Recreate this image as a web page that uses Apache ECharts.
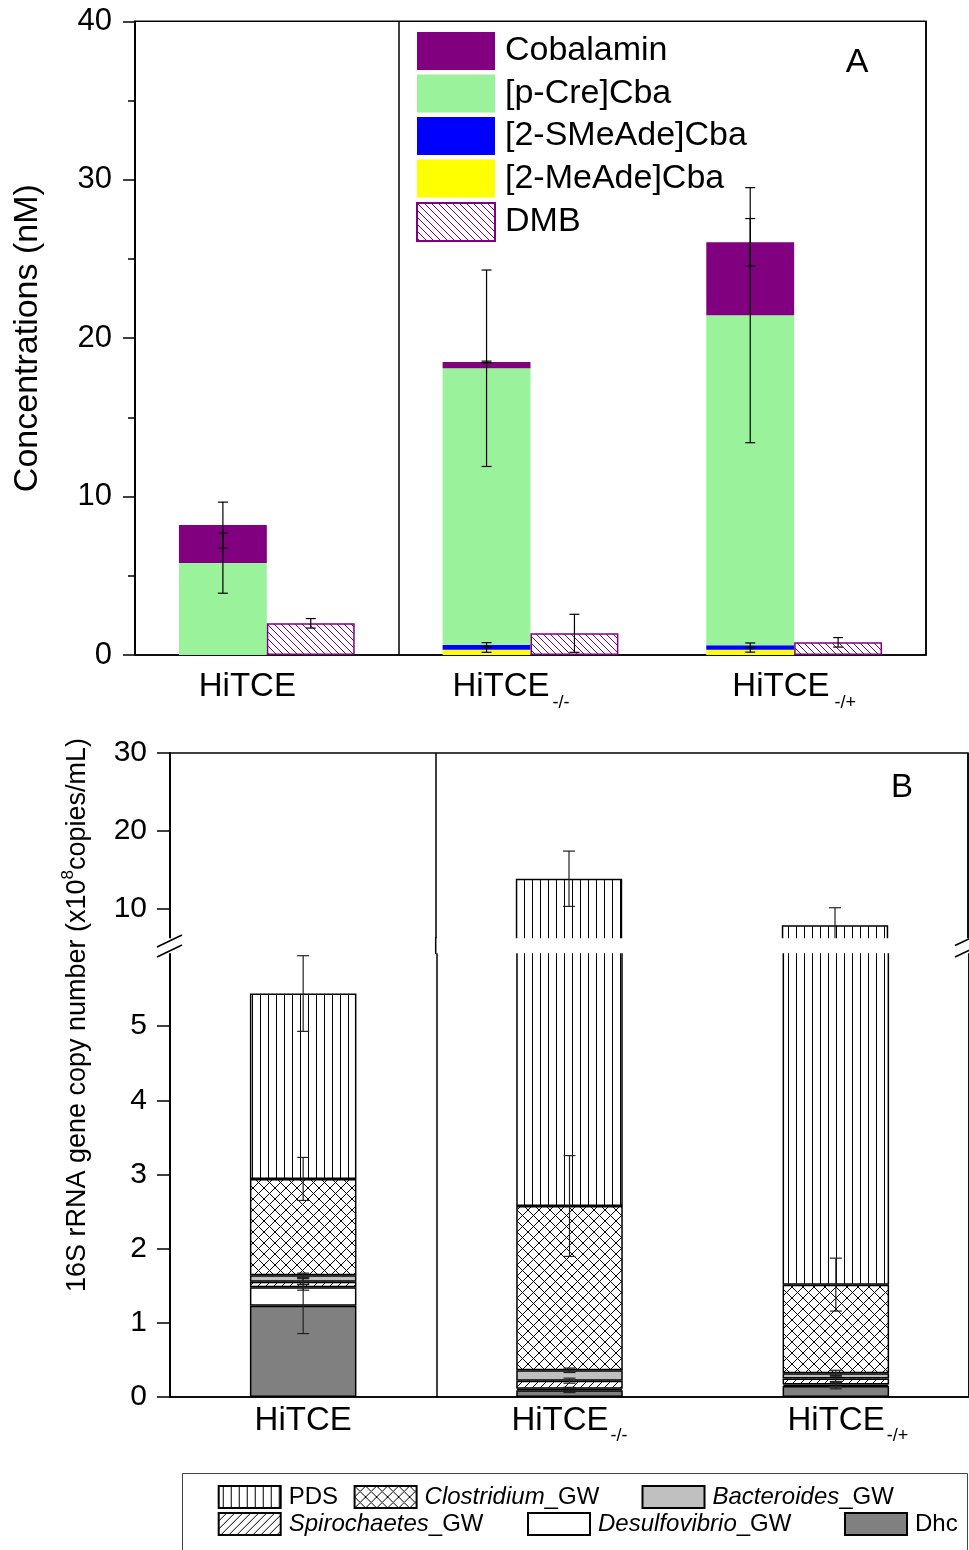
<!DOCTYPE html>
<html><head><meta charset="utf-8">
<script src="https://cdn.jsdelivr.net/npm/echarts@6/dist/echarts.min.js"></script>
<style>html,body{margin:0;padding:0;background:#fff}#c{width:969px;height:1550px}</style>
</head><body><div id="c"></div>
<script>
// ---------- Panel A data (nM) ----------
const categoriesA = ['HiTCE', 'HiTCE_-/-', 'HiTCE_-/+'];
const meAdeCba   = [0, 0.33, 0.33];     // [2-MeAde]Cba
const sMeAdeCba  = [0, 0.30, 0.28];     // [2-SMeAde]Cba
const pCreCba    = [5.8, 17.47, 20.84]; // [p-Cre]Cba
const cobalamin  = [2.4, 0.4, 4.6];
const dmb        = [2.0, 1.37, 0.8];
const errMeAde   = [0, 0.16, 0.15];
const errSMeAde  = [0, 0.15, 0.15];
const errPCre    = [1.9, 6.2, 8.05];
const errCobal   = [1.45, 0.05, 1.5];
const errDMB     = [0.3, 1.2, 0.3];
const yTicksA    = [0, 10, 20, 30, 40];

// ---------- Panel B data (x10^8 copies/mL) ----------
const categoriesB   = ['HiTCE', 'HiTCE_-/-', 'HiTCE_-/+'];
const dhc           = [1.23, 0.09, 0.15];
const desulfovibrio = [0.25, 0.02, 0.02];
const spirochaetes  = [0.075, 0.11, 0.08];
const bacteroides   = [0.085, 0.14, 0.07];
const clostridium   = [1.30, 2.215, 1.195];
const pds           = [2.50, 11.285, 6.365];
const errDhc        = [0.375, 0.03, 0.04];
const errDesulfo    = [0.04, 0.02, 0.03];
const errSpiro      = [0.04, 0.034, 0.04];
const errBactero    = [0.03, 0.03, 0.04];
const errClostri    = [0.29, 0.68, 0.357];
const errPDS        = [0.51, 3.55, 2.26];
const lowerTicksB   = [0, 1, 2, 3, 4, 5];
const upperTicksB   = [10, 20, 30];

const FF = '"Liberation Sans", Arial, sans-serif';

// ---------- fill patterns ----------
function pattern(w, h, stroke, lw, draw) {
  const c = document.createElement('canvas');
  c.width = w; c.height = h;
  const ctx = c.getContext('2d');
  ctx.fillStyle = '#fff'; ctx.fillRect(0, 0, w, h);
  ctx.strokeStyle = stroke; ctx.lineWidth = lw;
  ctx.beginPath(); draw(ctx, w, h); ctx.stroke();
  return { image: c, repeat: 'repeat' };
}
const patVert = pattern(8, 8, '#000', 1, (c) => { c.moveTo(4.5, 0); c.lineTo(4.5, 8); });
const patCross = pattern(11, 11, '#000', 1, (c) => {
  [-11, 0, 11].forEach(d => { c.moveTo(d, 0); c.lineTo(d + 11, 11); c.moveTo(d + 11, 0); c.lineTo(d, 11); });
});
const patSlash = pattern(8, 8, '#000', 1, (c) => {
  [-8, 0, 8].forEach(d => { c.moveTo(d, 8); c.lineTo(d + 8, 0); });
});
const patBack = pattern(7, 7, '#800080', 1, (c) => {
  [-7, 0, 7].forEach(d => { c.moveTo(d, 0); c.lineTo(d + 7, 7); });
});

// ---------- helpers ----------
function cumulative(layers) {
  let run = layers[0].map(() => 0);
  return layers.map(l => { run = run.map((v, k) => v + l[k]); return run.slice(); });
}
function errRenderer(color, capHalf, sideFrac) {
  return function (params, api) {
    const i = api.value(0), top = api.value(1), e = api.value(2), side = api.value(3) || 0;
    const bw = api.size([1, 0])[0];
    const x = api.coord([i, top])[0] + side * bw * sideFrac;
    const yHi = api.coord([i, top + e])[1];
    const yLo = api.coord([i, top - e])[1];
    const st = { stroke: color, lineWidth: 1.2 };
    return { type: 'group', children: [
      { type: 'line', shape: { x1: x, y1: yHi, x2: x, y2: yLo }, style: st },
      { type: 'line', shape: { x1: x - capHalf, y1: yHi, x2: x + capHalf, y2: yHi }, style: st },
      { type: 'line', shape: { x1: x - capHalf, y1: yLo, x2: x + capHalf, y2: yLo }, style: st }
    ]};
  };
}

// Panel A error bar items: [cat, top, err, side]
const topsA = cumulative([meAdeCba, sMeAdeCba, pCreCba, cobalamin]);
const errsA = [errMeAde, errSMeAde, errPCre, errCobal];
const errDataA = [];
topsA.forEach((tops, li) => tops.forEach((t, k) => { if (errsA[li][k] > 0) errDataA.push([k, t, errsA[li][k], -1]); }));
dmb.forEach((v, k) => errDataA.push([k, v, errDMB[k], 1]));

// Panel B error bar items
const layersB = [dhc, desulfovibrio, spirochaetes, bacteroides, clostridium, pds];
const errsB = [errDhc, errDesulfo, errSpiro, errBactero, errClostri, errPDS];
const topsB = cumulative(layersB);
const errLowerB = [], errUpperB = [];
topsB.forEach((tops, li) => tops.forEach((t, k) => {
  (t < 6 ? errLowerB : errUpperB).push([k, t, errsB[li][k], 0]);
}));

// ---------- label formatters ----------
function catLabel(value, index) {
  const p = value.split('_');
  return p[1] ? `{m${index}|${p[0]}}{s${index}|${p[1]}}` : `{m${index}|${p[0]}}`;
}
function mainTok(lh, pad) { return { fontSize: 33, fontFamily: FF, color: '#000', lineHeight: lh, padding: pad }; }
function subTok(pad) { return { fontSize: 18, fontFamily: FF, color: '#000', lineHeight: 18, verticalAlign: 'bottom', padding: pad }; }
const richA = { m0: mainTok(50, [0, 39, 0, 0]), m1: mainTok(50, [0, 0, 0, 0]), s1: subTok([0, 39, 0, 3]),
                m2: mainTok(50, [0, 0, 0, 0]), s2: subTok([0, 0, 0, 5]) };
const richB = { m0: mainTok(48, [0, 0, 0, 0]), m1: mainTok(48, [0, 0, 0, 0]), s1: subTok([0, 0, 0, 2]),
                m2: mainTok(48, [0, 0, 0, 24]), s2: subTok([0, 0, 0, 2]) };

const blackLine = { color: '#000', width: 1.5 };
// divider between first and second category (ticks 0 and 1 -> left edge and first boundary)
const dividerOnly = (i) => i <= 1;

// ---------- Panel B series builder ----------
const namesB = ['Dhc', 'Desulfovibrio_GW', 'Spirochaetes_GW', 'Bacteroides_GW', 'Clostridium_GW', 'PDS'];
const fillsB = ['#808080', '#ffffff', patSlash, '#c0c0c0', patCross, patVert];
function seriesB(axisIdx) {
  return layersB.map((vals, li) => ({
    name: namesB[li], type: 'bar', stack: 'B' + axisIdx, xAxisIndex: axisIdx, yAxisIndex: axisIdx,
    barWidth: '40%', clip: true, data: vals,
    itemStyle: { color: fillsB[li], borderColor: '#000', borderWidth: 1.5 }
  }));
}

function legendB(name, left, top) {
  return {
    data: [name], left: left, top: top, padding: 0, itemWidth: 62, itemHeight: 22, icon: 'rect', selectedMode: false,
    formatter: (n) => { const p = n.split('_'); return p[1] ? `{i|${p[0]}}{n|_${p[1]}}` : `{n|${n}}`; },
    textStyle: { fontSize: 24, fontFamily: FF, color: '#000', padding: [0, 0, 0, 3],
      rich: { i: { fontSize: 24, fontFamily: FF, fontStyle: 'italic', color: '#000' },
              n: { fontSize: 24, fontFamily: FF, color: '#000' } } }
  };
}

const chart = echarts.init(document.getElementById('c'), null, { renderer: 'canvas' });
chart.setOption({
  animation: false,
  backgroundColor: '#fff',
  grid: [
    { left: 135, top: 21.3, width: 791, height: 633.7, show: true, borderColor: '#000', borderWidth: 1.5, backgroundColor: 'transparent' },
    { left: 170, top: 952, width: 799, height: 445, show: true, borderColor: '#000', borderWidth: 1.5, backgroundColor: 'transparent' },
    { left: 170, top: 753, width: 798, height: 187, show: true, borderColor: '#000', borderWidth: 1.5, backgroundColor: 'transparent' }
  ],
  xAxis: [
    { type: 'category', gridIndex: 0, data: categoriesA,
      axisLine: { lineStyle: blackLine }, axisTick: { length: 12, lineStyle: blackLine },
      splitLine: { show: true, interval: dividerOnly, lineStyle: blackLine },
      axisLabel: { formatter: catLabel, rich: richA, margin: 7, interval: 0 } },
    { type: 'category', gridIndex: 1, data: categoriesB,
      axisLine: { lineStyle: blackLine }, axisTick: { length: 8, lineStyle: blackLine },
      splitLine: { show: true, interval: dividerOnly, lineStyle: blackLine },
      axisLabel: { formatter: catLabel, rich: richB, margin: 0, interval: 0 } },
    { type: 'category', gridIndex: 2, data: categoriesB,
      axisLine: { show: false }, axisTick: { show: false }, axisLabel: { show: false },
      splitLine: { show: true, interval: dividerOnly, lineStyle: blackLine } }
  ],
  yAxis: [
    { type: 'value', gridIndex: 0, min: 0, max: 40, interval: 10,
      name: 'Concentrations (nM)', nameLocation: 'middle', nameGap: 90,
      nameTextStyle: { fontSize: 34, fontFamily: FF, color: '#000' },
      axisLine: { show: true, lineStyle: blackLine },
      axisTick: { show: true, length: 12, lineStyle: blackLine, customValues: yTicksA },
      minorTick: { show: true, splitNumber: 2, length: 7, lineStyle: { color: '#000', width: 1.5 } },
      splitLine: { show: false },
      axisLabel: { fontSize: 31, fontFamily: FF, color: '#000', margin: 23, customValues: yTicksA } },
    { type: 'value', gridIndex: 1, min: 0, max: 6,
      name: '{t|16S rRNA gene copy number (x10}{u|8}{t|copies/mL)}', nameLocation: 'middle', nameGap: 74,
      nameTextStyle: { fontSize: 27, fontFamily: FF, color: '#000', padding: [0, 0, 0, 319],
        rich: { t: { fontSize: 27, fontFamily: FF, color: '#000', lineHeight: 36 },
                u: { fontSize: 17, fontFamily: FF, color: '#000', lineHeight: 17, verticalAlign: 'top' } } },
      axisLine: { show: true, lineStyle: blackLine },
      axisTick: { show: true, length: 13, lineStyle: blackLine, customValues: lowerTicksB },
      splitLine: { show: false },
      axisLabel: { fontSize: 30, fontFamily: FF, color: '#000', margin: 23, customValues: lowerTicksB } },
    { type: 'value', gridIndex: 2, min: 6, max: 30,
      axisLine: { show: true, lineStyle: blackLine },
      axisTick: { show: true, length: 13, lineStyle: blackLine, customValues: upperTicksB },
      splitLine: { show: false },
      axisLabel: { fontSize: 30, fontFamily: FF, color: '#000', margin: 23, customValues: upperTicksB } }
  ],
  legend: [
    { data: ['Cobalamin', '[p-Cre]Cba', '[2-SMeAde]Cba', '[2-MeAde]Cba', 'DMB'],
      left: 416, top: 32, padding: 0, orient: 'vertical', itemWidth: 78, itemHeight: 38, itemGap: 4.5, icon: 'rect',
      selectedMode: false,
      textStyle: { fontSize: 34, fontFamily: FF, color: '#000', padding: [6, 0, 0, 5] } },
    legendB('PDS', 217.7, 1485),
    legendB('Clostridium_GW', 353.6, 1485),
    legendB('Bacteroides_GW', 641.5, 1485),
    legendB('Spirochaetes_GW', 217.7, 1512),
    legendB('Desulfovibrio_GW', 527, 1512),
    legendB('Dhc', 844, 1512)
  ],
  series: [
    { name: '[2-MeAde]Cba', type: 'bar', stack: 'A', xAxisIndex: 0, yAxisIndex: 0, data: meAdeCba,
      barWidth: '33.33%', barGap: '0%', itemStyle: { color: '#ffff00' } },
    { name: '[2-SMeAde]Cba', type: 'bar', stack: 'A', xAxisIndex: 0, yAxisIndex: 0, data: sMeAdeCba,
      barWidth: '33.33%', barGap: '0%', itemStyle: { color: '#0000ff' } },
    { name: '[p-Cre]Cba', type: 'bar', stack: 'A', xAxisIndex: 0, yAxisIndex: 0, data: pCreCba,
      barWidth: '33.33%', barGap: '0%', itemStyle: { color: '#9af29a' } },
    { name: 'Cobalamin', type: 'bar', stack: 'A', xAxisIndex: 0, yAxisIndex: 0, data: cobalamin,
      barWidth: '33.33%', barGap: '0%', itemStyle: { color: '#800080' } },
    { name: 'DMB', type: 'bar', stack: 'D', xAxisIndex: 0, yAxisIndex: 0, data: dmb,
      barWidth: '33.33%', barGap: '0%', itemStyle: { color: patBack, borderColor: '#800080', borderWidth: 1.5 } },
    { type: 'custom', xAxisIndex: 0, yAxisIndex: 0, data: errDataA, z: 10,
      renderItem: errRenderer('#000', 5, 1 / 6) },
    ...seriesB(1),
    ...seriesB(2),
    { type: 'custom', xAxisIndex: 1, yAxisIndex: 1, data: errLowerB, z: 10, clip: true,
      renderItem: errRenderer('#222', 6, 0) },
    { type: 'custom', xAxisIndex: 2, yAxisIndex: 2, data: errUpperB, z: 10, clip: true,
      renderItem: errRenderer('#222', 6, 0) }
  ],
  graphic: [
    { type: 'rect', z: 100, shape: { x: 150, y: 938.3, width: 819, height: 14.9 }, style: { fill: '#fff' } },
    { type: 'line', z: 101, shape: { x1: 435.7, y1: 937, x2: 435.7, y2: 954 }, style: { stroke: '#000', lineWidth: 1.5 } },
    { type: 'line', z: 101, shape: { x1: 157, y1: 947, x2: 182, y2: 935 }, style: { stroke: '#000', lineWidth: 1.5 } },
    { type: 'line', z: 101, shape: { x1: 157, y1: 957, x2: 182, y2: 945 }, style: { stroke: '#000', lineWidth: 1.5 } },
    { type: 'line', z: 101, shape: { x1: 955, y1: 945.5, x2: 971, y2: 938 }, style: { stroke: '#000', lineWidth: 1.5 } },
    { type: 'line', z: 101, shape: { x1: 955, y1: 957, x2: 971, y2: 949.5 }, style: { stroke: '#000', lineWidth: 1.5 } },
    { type: 'text', z: 101, x: 857, y: 63, style: { text: 'A', fontSize: 34, fontFamily: FF, fill: '#000', align: 'center', verticalAlign: 'middle' } },
    { type: 'text', z: 101, x: 902, y: 788, style: { text: 'B', fontSize: 33, fontFamily: FF, fill: '#000', align: 'center', verticalAlign: 'middle' } },
    { type: 'rect', z: 0, shape: { x: 182.5, y: 1473.5, width: 785, height: 100 }, style: { fill: 'none', stroke: '#444', lineWidth: 1 } }
  ]
});
</script>
</body></html>
